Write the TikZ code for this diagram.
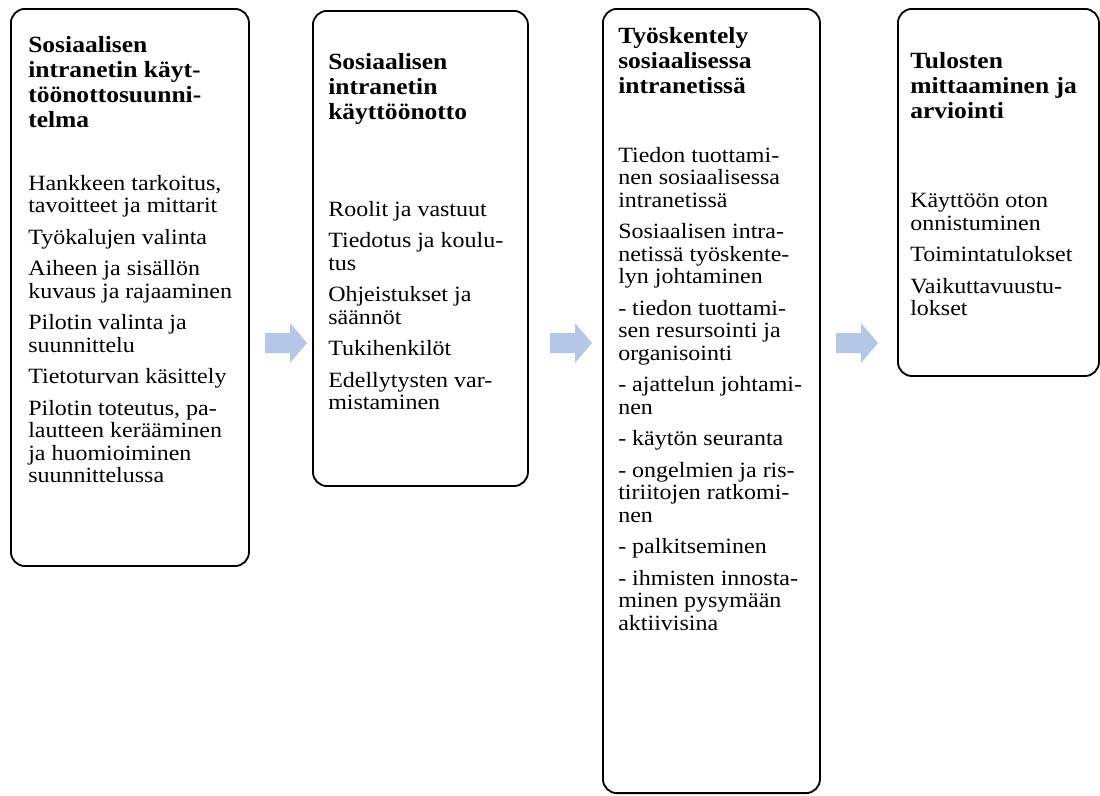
\documentclass[tikz,border=0pt]{standalone}
\usepackage{fontspec}
\setmainfont{Liberation Serif}[FakeStretch=1.1]
\usepackage{xcolor}
\definecolor{arrowblue}{HTML}{B4C7E7}

\tikzset{
	box/.style={draw, line width=1.3pt, rounded corners=10pt, anchor=north west, inner sep=0pt},
	head/.style={anchor=north west, inner sep=0pt, align=left, font=\fontsize{16.5}{17.8}\selectfont\bfseries},
	items/.style={anchor=north west, inner sep=0pt, align=left, font=\fontsize{15.5}{16}\selectfont},
}

\begin{document}
\begin{tikzpicture}[x=0.025cm, y=-0.025cm]
		\useasboundingbox (0,0) rectangle (1100,796);
		
		% Phase boxes
		\node[box, minimum width=5.95cm, minimum height=13.925cm] (b1) at (10,8) {};
		\node[box, minimum width=5.375cm, minimum height=11.875cm] (b2) at (312,10) {};
		\node[box, minimum width=5.425cm, minimum height=19.6cm] (b3) at (602,8) {};
		\node[box, minimum width=5.025cm, minimum height=9.175cm] (b4) at (897,8) {};
		
		% Phase 1
		\node[head] (t1) at (28,36) {Sosiaalisen\\intranetin käyt-\\töönottosuunni-\\telma};
		\node[items] (i1) at (28,175) {Hankkeen tarkoitus,\\tavoitteet ja mittarit\\[6.4pt]
			Työkalujen valinta\\[6.4pt]
			Aiheen ja sisällön\\kuvaus ja rajaaminen\\[6.4pt]
			Pilotin valinta ja\\suunnittelu\\[6.4pt]
			Tietoturvan käsittely\\[6.4pt]
			Pilotin toteutus, pa-\\lautteen kerääminen\\ja huomioiminen\\suunnittelussa};
		
		% Phase 2
		\node[head] (t2) at (328,53) {Sosiaalisen\\intranetin\\käyttöönotto};
		\node[items] (i2) at (328,201) {Roolit ja vastuut\\[6.4pt]
			Tiedotus ja koulu-\\tus\\[6.4pt]
			Ohjeistukset ja\\säännöt\\[6.4pt]
			Tukihenkilöt\\[6.4pt]
			Edellytysten var-\\mistaminen};
		
		% Phase 3
		\node[head] (t3) at (618,27) {Työskentely\\sosiaalisessa\\intranetissä};
		\node[items] (i3) at (618,147) {Tiedon tuottami-\\nen sosiaalisessa\\intranetissä\\[6.4pt]
			Sosiaalisen intra-\\netissä työskente-\\lyn johtaminen\\[6.4pt]
			- tiedon tuottami-\\sen resursointi ja\\organisointi\\[6.4pt]
			- ajattelun johtami-\\nen\\[6.4pt]
			- käytön seuranta\\[6.4pt]
			- ongelmien ja ris-\\tiriitojen ratkomi-\\nen\\[6.4pt]
			- palkitseminen\\[6.4pt]
			- ihmisten innosta-\\minen pysymään\\aktiivisina};
		
		% Phase 4
		\node[head] (t4) at (910,52) {Tulosten\\mittaaminen ja\\arviointi};
		\node[items] (i4) at (910,193) {Käyttöön oton\\onnistuminen\\[6.4pt]
			Toimintatulokset\\[6.4pt]
			Vaikuttavuustu-\\lokset};
		
		% Block arrows between the phases
		\foreach \x in {265,550,836}{
			\fill[arrowblue] (\x,333) -- (\x+25,333) -- (\x+25,323) -- (\x+42,343)
			-- (\x+25,363) -- (\x+25,353) -- (\x,353) -- cycle;
		}
	\end{tikzpicture}
\end{document}
